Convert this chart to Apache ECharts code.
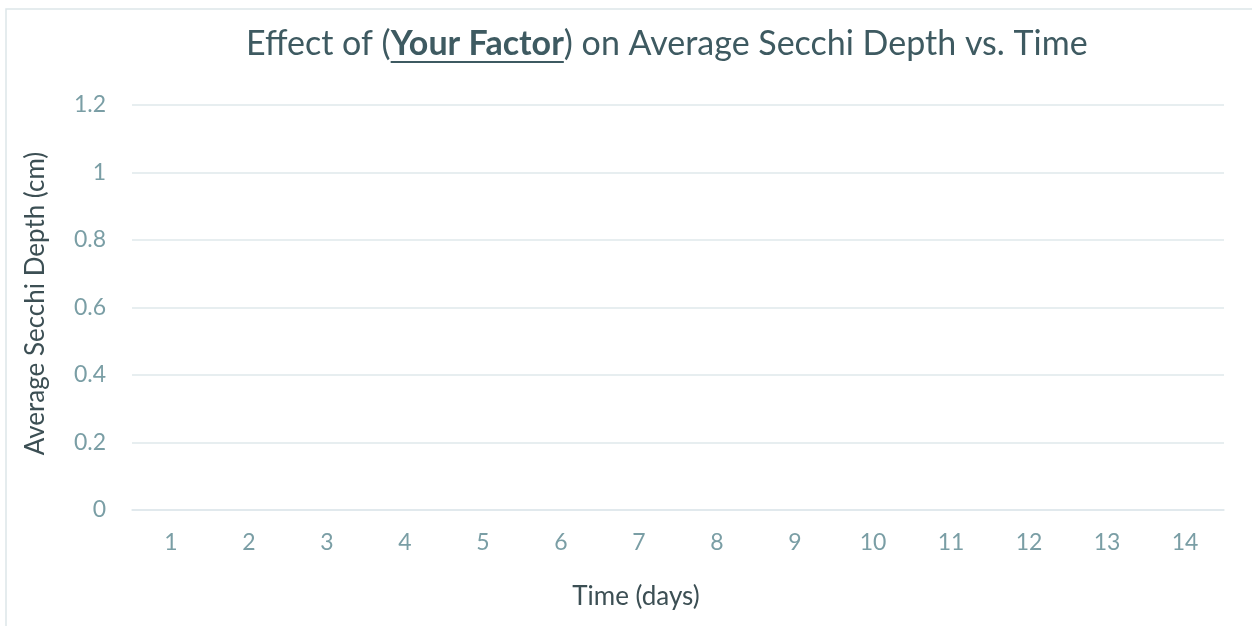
<!DOCTYPE html>
<html><head><meta charset="utf-8">
<script src="https://cdn.jsdelivr.net/npm/echarts@6/dist/echarts.min.js"></script>
<style>html,body{margin:0;padding:0;background:#fff}#c{width:1252px;height:626px}</style>
</head><body><div id="c"></div>
<script>
const categories = ['1','2','3','4','5','6','7','8','9','10','11','12','13','14'];
const seriesValues = [null,null,null,null,null,null,null,null,null,null,null,null,null,null];
const yTicks = [0, 0.2, 0.4, 0.6, 0.8, 1, 1.2];
const titleParts = ['Effect of (', 'Your Factor', ') on Average Secchi Depth vs. Time'];

const FONT = 'Lato, "Open Sans", sans-serif';
const TITLE_SIZE = 34, TITLE_LEFT = 246, TITLE_TOP = 27;
const cv = document.createElement('canvas').getContext('2d');
cv.font = 'normal ' + TITLE_SIZE + 'px ' + FONT;
const w1 = cv.measureText(titleParts[0]).width;
cv.font = 'bold ' + TITLE_SIZE + 'px ' + FONT;
const wb = cv.measureText(titleParts[1]).width;

const chart = echarts.init(document.getElementById('c'));
chart.setOption({
  backgroundColor: '#fff',
  animation: false,
  title: {
    text: '{n|' + titleParts[0] + '}{b|' + titleParts[1] + '}{n|' + titleParts[2] + '}',
    left: TITLE_LEFT, top: TITLE_TOP, padding: 0,
    textStyle: {
      fontWeight: 'normal',
      rich: {
        n: {fontFamily: FONT, fontSize: TITLE_SIZE, color: '#3e5a61', fontWeight: 'normal'},
        b: {fontFamily: FONT, fontSize: TITLE_SIZE, color: '#3e5a61', fontWeight: 'bold'}
      }
    }
  },
  graphic: [
    {type: 'rect', shape: {x: 6, y: 9, width: 1300, height: 700}, style: {fill: 'none', stroke: '#dde6e9', lineWidth: 1.5}, silent: true},
    {type: 'rect', shape: {x: TITLE_LEFT + w1, y: 61, width: wb, height: 2}, style: {fill: '#3e5a61'}, silent: true}
  ],
  grid: {left: 132, right: 28, top: 105, bottom: 116},
  xAxis: {
    type: 'category', data: categories, boundaryGap: true,
    name: 'Time (days)', nameLocation: 'middle', nameGap: 74,
    nameTextStyle: {fontFamily: FONT, fontSize: 26, color: '#3c4f54', padding: [0, 84, 0, 0]},
    axisLine: {lineStyle: {color: '#dfe8eb', width: 1.5}},
    axisTick: {show: false},
    axisLabel: {fontFamily: FONT, fontSize: 23, color: '#7a9ea5', margin: 21}
  },
  yAxis: {
    type: 'value', min: 0, max: 1.2, interval: 0.2,
    name: 'Average Secchi Depth (cm)', nameLocation: 'middle', nameGap: 83, nameRotate: 90,
    nameTextStyle: {fontFamily: FONT, fontSize: 26, color: '#3c4f54', padding: [0, 0, 0, 8]},
    axisLine: {show: false}, axisTick: {show: false},
    axisLabel: {fontFamily: FONT, fontSize: 23, color: '#7a9ea5', margin: 26,
      formatter: v => { const t = yTicks.find(x => Math.abs(x - v) < 1e-9); return String(t !== undefined ? t : v); }},
    splitLine: {lineStyle: {color: '#dfe8eb', width: 1.5}}
  },
  series: [{type: 'line', data: seriesValues, symbol: 'none'}]
});
</script></body></html>
